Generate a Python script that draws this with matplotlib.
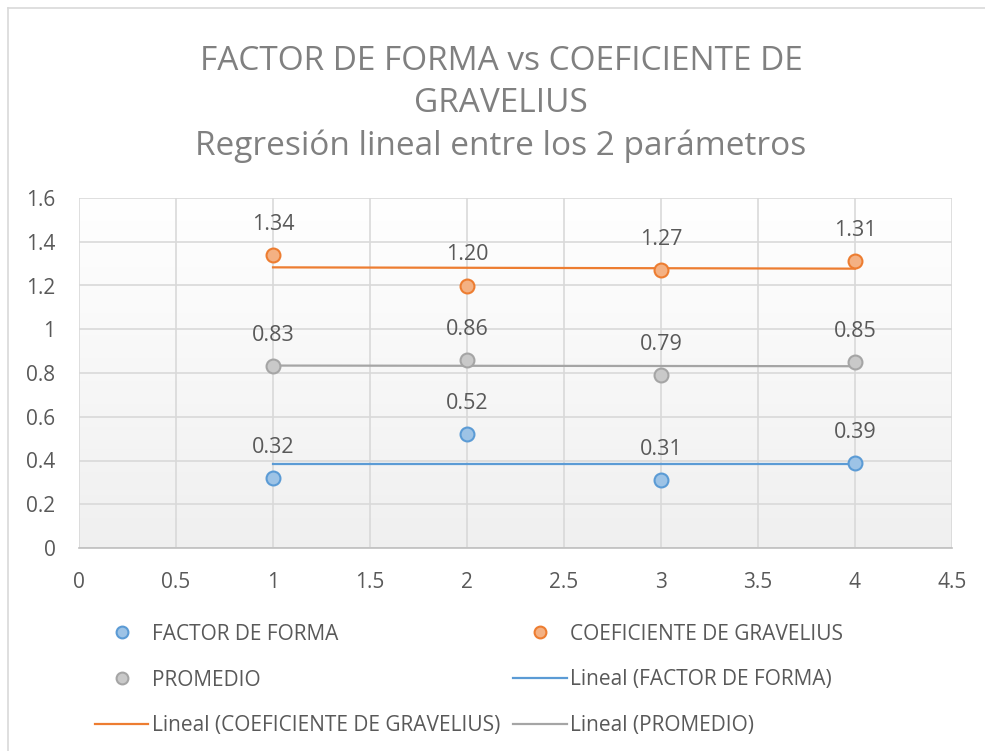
import numpy as np
import matplotlib
matplotlib.use("Agg")
import matplotlib.pyplot as plt
from matplotlib.lines import Line2D

plt.rcParams['font.family'] = ['Open Sans', 'DejaVu Sans']

# datos
puntos = [1, 2, 3, 4]
factor_forma = [0.32, 0.52, 0.31, 0.39]
gravelius = [1.34, 1.20, 1.27, 1.31]
promedio = [0.83, 0.86, 0.79, 0.85]

series = [
    ("FACTOR DE FORMA", factor_forma, "#9dc3e6", "#5b9bd5"),
    ("COEFICIENTE DE GRAVELIUS", gravelius, "#f4b183", "#ed7d31"),
    ("PROMEDIO", promedio, "#c9c9c9", "#a5a5a5"),
]

xticks = np.arange(0, 4.51, 0.5)
yticks = np.arange(0, 1.61, 0.2)

texto = "#595959"

fig = plt.figure(figsize=(9.85, 7.51), dpi=100)
ax = fig.add_axes([79 / 985, 1 - 548 / 751, (952 - 79) / 985, (548 - 198) / 751])

# fondo con degradado como en excel
grad = np.linspace(1.0, 0.94, 256).reshape(-1, 1)
ax.imshow(np.dstack([grad, grad, grad]), extent=(0, 1, 0, 1), transform=ax.transAxes,
          aspect='auto', zorder=-2, interpolation='bicubic')

puntos_h = []
lineas_h = []
for nombre, y, relleno, borde in series:
    h, = ax.plot(puntos, y, 'o', ms=10, mfc=relleno, mec=borde, mew=1.5, ls='none',
                 zorder=4, label=nombre)
    puntos_h.append(h)
    coef = np.polyfit(puntos, y, 1)  # recta de regresion (linea de tendencia)
    xr = np.array([puntos[0], puntos[-1]])
    l, = ax.plot(xr, np.polyval(coef, xr), color=borde, lw=1.6, zorder=3,
                 label="Lineal ({})".format(nombre))
    lineas_h.append(l)
    for xi, yi in zip(puntos, y):
        ax.annotate("{:.2f}".format(yi), (xi, yi), xytext=(0, 22), textcoords='offset points',
                    ha='center', va='center', fontsize=15.5, color=texto)

ax.set_xlim(0, 4.5)
ax.set_ylim(0, 1.6)
ax.set_xticks(xticks)
ax.set_yticks(yticks)
ax.set_xticklabels(["{:g}".format(v) for v in xticks])
ax.set_yticklabels(["{:g}".format(round(v, 1)) for v in yticks])
ax.tick_params(length=0, labelsize=15, labelcolor=texto)
ax.tick_params(axis='y', pad=17)
ax.tick_params(axis='x', pad=17)
ax.grid(True, color="#d9d9d9", lw=1.2)
ax.set_axisbelow(True)
for lado in ['top', 'right', 'left']:
    ax.spines[lado].set_visible(False)
ax.spines['bottom'].set_color("#bfbfbf")
ax.spines['bottom'].set_linewidth(1.2)

# leyenda: excel la llena por filas
orden = [puntos_h[0], puntos_h[2], lineas_h[1], puntos_h[1], lineas_h[0], lineas_h[2]]
fig.legend(handles=orden, labels=[h.get_label() for h in orden], ncol=2,
           loc='center', bbox_to_anchor=(469 / 985, 1 - 680 / 751), frameon=False,
           fontsize=15, labelcolor=texto, handlelength=2.55, handletextpad=0.15,
           columnspacing=0.65, labelspacing=1.2, markerscale=0.85)

# titulo
gris = "#808080"
fig.text(501 / 985, 1 - 70 / 751, "FACTOR DE FORMA vs COEFICIENTE DE", ha='center',
         va='baseline', fontsize=24, color=gris)
fig.text(501 / 985, 1 - 112 / 751, "GRAVELIUS", ha='center', va='baseline',
         fontsize=24, color=gris)
fig.text(501 / 985, 1 - 155 / 751, "Regresión lineal entre los 2 parámetros", ha='center',
         va='baseline', fontsize=24, color=gris)

# borde del area del grafico
fig.add_artist(Line2D([8 / 985, 8 / 985], [0, 1 - 8 / 751], color="#d9d9d9", lw=1.2))
fig.add_artist(Line2D([8 / 985, 1], [1 - 8 / 751, 1 - 8 / 751], color="#d9d9d9", lw=1.2))

fig.savefig("out.png", dpi=100)
